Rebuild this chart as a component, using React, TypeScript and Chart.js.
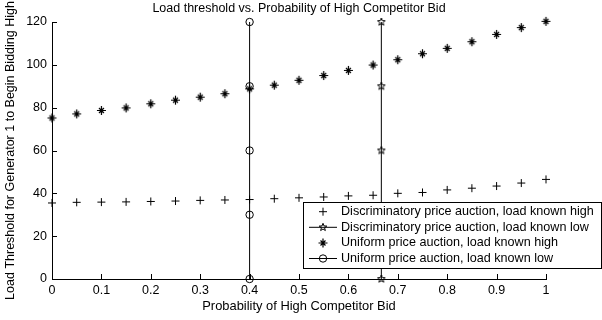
import React, { useEffect, useRef } from "react";
import { Chart, registerables } from "chart.js";

Chart.register(...registerables);

const probX = [0, 0.05, 0.1, 0.15, 0.2, 0.25, 0.3, 0.35, 0.4, 0.45, 0.5, 0.55, 0.6, 0.65, 0.7, 0.75, 0.8, 0.85, 0.9, 0.95, 1];
const discHigh = [35.5, 35.8, 35.9, 36.0, 36.2, 36.4, 36.7, 36.9, 37.1, 37.5, 37.9, 38.3, 38.8, 39.1, 40.0, 40.4, 41.6, 42.4, 43.4, 44.8, 46.5];
const uniHigh = [75.2, 77.1, 78.7, 79.9, 81.8, 83.5, 84.9, 86.5, 88.8, 90.5, 92.8, 95.0, 97.4, 99.9, 102.4, 105.2, 107.7, 110.8, 114.2, 117.4, 120.3];
const discLowX = 2 / 3;
const discLowY = [0, 60, 90, 120];
const uniLowX = 0.4;
const uniLowY = [0, 30, 60, 90, 120];

const xTickValues = [0, 0.1, 0.2, 0.3, 0.4, 0.5, 0.6, 0.7, 0.8, 0.9, 1];
const xTickLabels = ["0", "0.1", "0.2", "0.3", "0.4", "0.5", "0.6", "0.7", "0.8", "0.9", "1"];
const yTickValues = [0, 20, 40, 60, 80, 100, 120];
const yTickLabels = ["0", "20", "40", "60", "80", "100", "120"];

const titleText = "Load threshold vs. Probability of High Competitor Bid";
const xTitle = "Probability of High Competitor Bid";
const yTitle = "Load Threshold for Generator 1 to Begin Bidding High";
const legendLabels = [
  "Discriminatory price auction, load known high",
  "Discriminatory price auction, load known low",
  "Uniform price auction, load known high",
  "Uniform price auction, load known low",
];

const FONT = "'Liberation Sans', Arial, Helvetica, sans-serif";

function makePentagram(r: number): HTMLCanvasElement {
  const size = Math.ceil(r * 2 + 4);
  const c = document.createElement("canvas");
  c.width = size;
  c.height = size;
  const ctx = c.getContext("2d")!;
  drawPentagram(ctx, size / 2, size / 2, r);
  return c;
}

function drawPentagram(ctx: CanvasRenderingContext2D, cx: number, cy: number, r: number) {
  const ri = r * 0.42;
  ctx.beginPath();
  for (let i = 0; i < 10; i++) {
    const a = -Math.PI / 2 + (i * Math.PI) / 5;
    const rr = i % 2 === 0 ? r : ri;
    const px = cx + rr * Math.cos(a);
    const py = cy + rr * Math.sin(a);
    if (i === 0) ctx.moveTo(px, py);
    else ctx.lineTo(px, py);
  }
  ctx.closePath();
  ctx.strokeStyle = "#000";
  ctx.lineWidth = 1;
  ctx.stroke();
}

function makeAsterisk(r: number): HTMLCanvasElement {
  const size = Math.ceil(r * 2 + 4);
  const c = document.createElement("canvas");
  c.width = size;
  c.height = size;
  const ctx = c.getContext("2d")!;
  drawAsterisk(ctx, size / 2, size / 2, r);
  return c;
}

function drawAsterisk(ctx: CanvasRenderingContext2D, cx: number, cy: number, r: number) {
  ctx.beginPath();
  ctx.strokeStyle = "#000";
  ctx.lineWidth = 1.2;
  ctx.moveTo(cx - r, cy);
  ctx.lineTo(cx + r, cy);
  ctx.moveTo(cx, cy - r);
  ctx.lineTo(cx, cy + r);
  const d = r * 0.55;
  ctx.moveTo(cx - d, cy - d);
  ctx.lineTo(cx + d, cy + d);
  ctx.moveTo(cx - d, cy + d);
  ctx.lineTo(cx + d, cy - d);
  ctx.stroke();
}

const decorPlugin = {
  id: "matlabDecor",
  afterDraw(chart: any) {
    const ctx: CanvasRenderingContext2D = chart.ctx;
    const { left, right, bottom } = chart.chartArea;
    const xs = chart.scales.x;
    const ys = chart.scales.y;
    ctx.save();

    // title centred over the axes
    ctx.fillStyle = "#000";
    ctx.font = "12.5px " + FONT;
    ctx.textAlign = "center";
    ctx.textBaseline = "middle";
    ctx.fillText(titleText, (left + right) / 2, 8.5);

    // inward ticks
    ctx.strokeStyle = "#000";
    ctx.lineWidth = 1;
    ctx.beginPath();
    xTickValues.forEach((v) => {
      const px = Math.round(xs.getPixelForValue(v)) + 0.5;
      ctx.moveTo(px, bottom);
      ctx.lineTo(px, bottom - 5);
    });
    yTickValues.forEach((v) => {
      const py = Math.round(ys.getPixelForValue(v)) + 0.5;
      ctx.moveTo(left, py);
      ctx.lineTo(left + 5, py);
    });
    ctx.stroke();

    // legend box
    const bx = 303.5;
    const by = 202.5;
    const bw = 298;
    const bh = 66;
    ctx.fillStyle = "#fff";
    ctx.fillRect(bx, by, bw, bh);
    ctx.strokeStyle = "#000";
    ctx.strokeRect(bx, by, bw, bh);

    const rowY = [211.7, 227.3, 243, 258.5];
    const mx = 323;
    ctx.font = "12.6px " + FONT;
    ctx.textBaseline = "middle";
    ctx.textAlign = "left";
    legendLabels.forEach((label, i) => {
      const y = rowY[i];
      ctx.strokeStyle = "#000";
      ctx.lineWidth = 1;
      if (i === 1 || i === 3) {
        ctx.beginPath();
        ctx.moveTo(309, y);
        ctx.lineTo(337, y);
        ctx.stroke();
      }
      ctx.beginPath();
      if (i === 0) {
        ctx.moveTo(mx - 4, y);
        ctx.lineTo(mx + 4, y);
        ctx.moveTo(mx, y - 4);
        ctx.lineTo(mx, y + 4);
        ctx.stroke();
      } else if (i === 1) {
        drawPentagram(ctx, mx, y, 4);
      } else if (i === 2) {
        drawAsterisk(ctx, mx, y, 4.5);
      } else {
        ctx.arc(mx, y, 3.7, 0, Math.PI * 2);
        ctx.stroke();
      }
      ctx.fillStyle = "#000";
      ctx.fillText(label, 341, y);
    });
    ctx.restore();
  },
};

export default function App() {
  const canvasRef = useRef<HTMLCanvasElement | null>(null);

  useEffect(() => {
    document.body.style.margin = "0";
    const canvas = canvasRef.current;
    if (!canvas) return;
    const pentagram = makePentagram(4);
    const asterisk = makeAsterisk(4.5);

    const chart = new Chart(canvas, {
      type: "scatter",
      data: {
        datasets: [
          {
            label: legendLabels[0],
            data: probX.map((x, i) => ({ x, y: discHigh[i] })),
            pointStyle: "cross",
            pointRadius: 4,
            borderColor: "#000",
            backgroundColor: "#000",
            borderWidth: 1,
            showLine: false,
            clip: false,
          },
          {
            label: legendLabels[1],
            data: discLowY.map((y) => ({ x: discLowX, y })),
            pointStyle: pentagram as any,
            pointRadius: 4,
            borderColor: "#000",
            backgroundColor: "transparent",
            borderWidth: 1,
            showLine: true,
            clip: false,
          },
          {
            label: legendLabels[2],
            data: probX.map((x, i) => ({ x, y: uniHigh[i] })),
            pointStyle: asterisk as any,
            pointRadius: 4.5,
            borderColor: "#000",
            backgroundColor: "#000",
            borderWidth: 1,
            showLine: false,
            clip: false,
          },
          {
            label: legendLabels[3],
            data: uniLowY.map((y) => ({ x: uniLowX, y })),
            pointStyle: "circle",
            pointRadius: 3.7,
            borderColor: "#000",
            backgroundColor: "transparent",
            borderWidth: 1,
            showLine: true,
            clip: false,
          },
        ],
      },
      options: {
        animation: false,
        responsive: false,
        devicePixelRatio: 1,
        layout: { padding: { top: 22, right: 56, bottom: 0, left: 0 } },
        plugins: {
          legend: { display: false },
          tooltip: { enabled: false },
          title: { display: false },
        },
        scales: {
          x: {
            type: "linear",
            min: 0,
            max: 1,
            afterBuildTicks: (scale: any) => {
              scale.ticks = xTickValues.map((v) => ({ value: v }));
            },
            afterFit: (scale: any) => {
              scale.height = 41;
            },
            ticks: {
              color: "#000",
              font: { family: FONT, size: 12.5 },
              padding: 4.5,
              maxRotation: 0,
              autoSkip: false,
              callback: (_v: any, i: number) => xTickLabels[i],
            },
            grid: { display: false, drawTicks: false, tickLength: 0 },
            border: { display: true, color: "#000", width: 1 },
            title: {
              display: true,
              text: xTitle,
              color: "#000",
              font: { family: FONT, size: 12.9 },
              padding: { top: 0, bottom: 5.5 },
            },
          },
          y: {
            type: "linear",
            min: 0,
            max: 120,
            afterBuildTicks: (scale: any) => {
              scale.ticks = yTickValues.map((v) => ({ value: v }));
            },
            afterFit: (scale: any) => {
              scale.width = 52;
            },
            ticks: {
              color: "#000",
              font: { family: FONT, size: 12.5 },
              padding: 5,
              autoSkip: false,
              callback: (_v: any, i: number) => yTickLabels[i],
            },
            grid: { display: false, drawTicks: false, tickLength: 0 },
            border: { display: true, color: "#000", width: 1 },
            title: {
              display: true,
              text: yTitle,
              color: "#000",
              font: { family: FONT, size: 12.5 },
              padding: { top: 3, bottom: 0 },
            },
          },
        },
      },
      plugins: [decorPlugin],
    });
    return () => chart.destroy();
  }, []);

  return (
    <div style={{ width: 602, height: 320, background: "#fff" }}>
      <canvas ref={canvasRef} width={602} height={320} style={{ width: 602, height: 320, display: "block" }} />
    </div>
  );
}
